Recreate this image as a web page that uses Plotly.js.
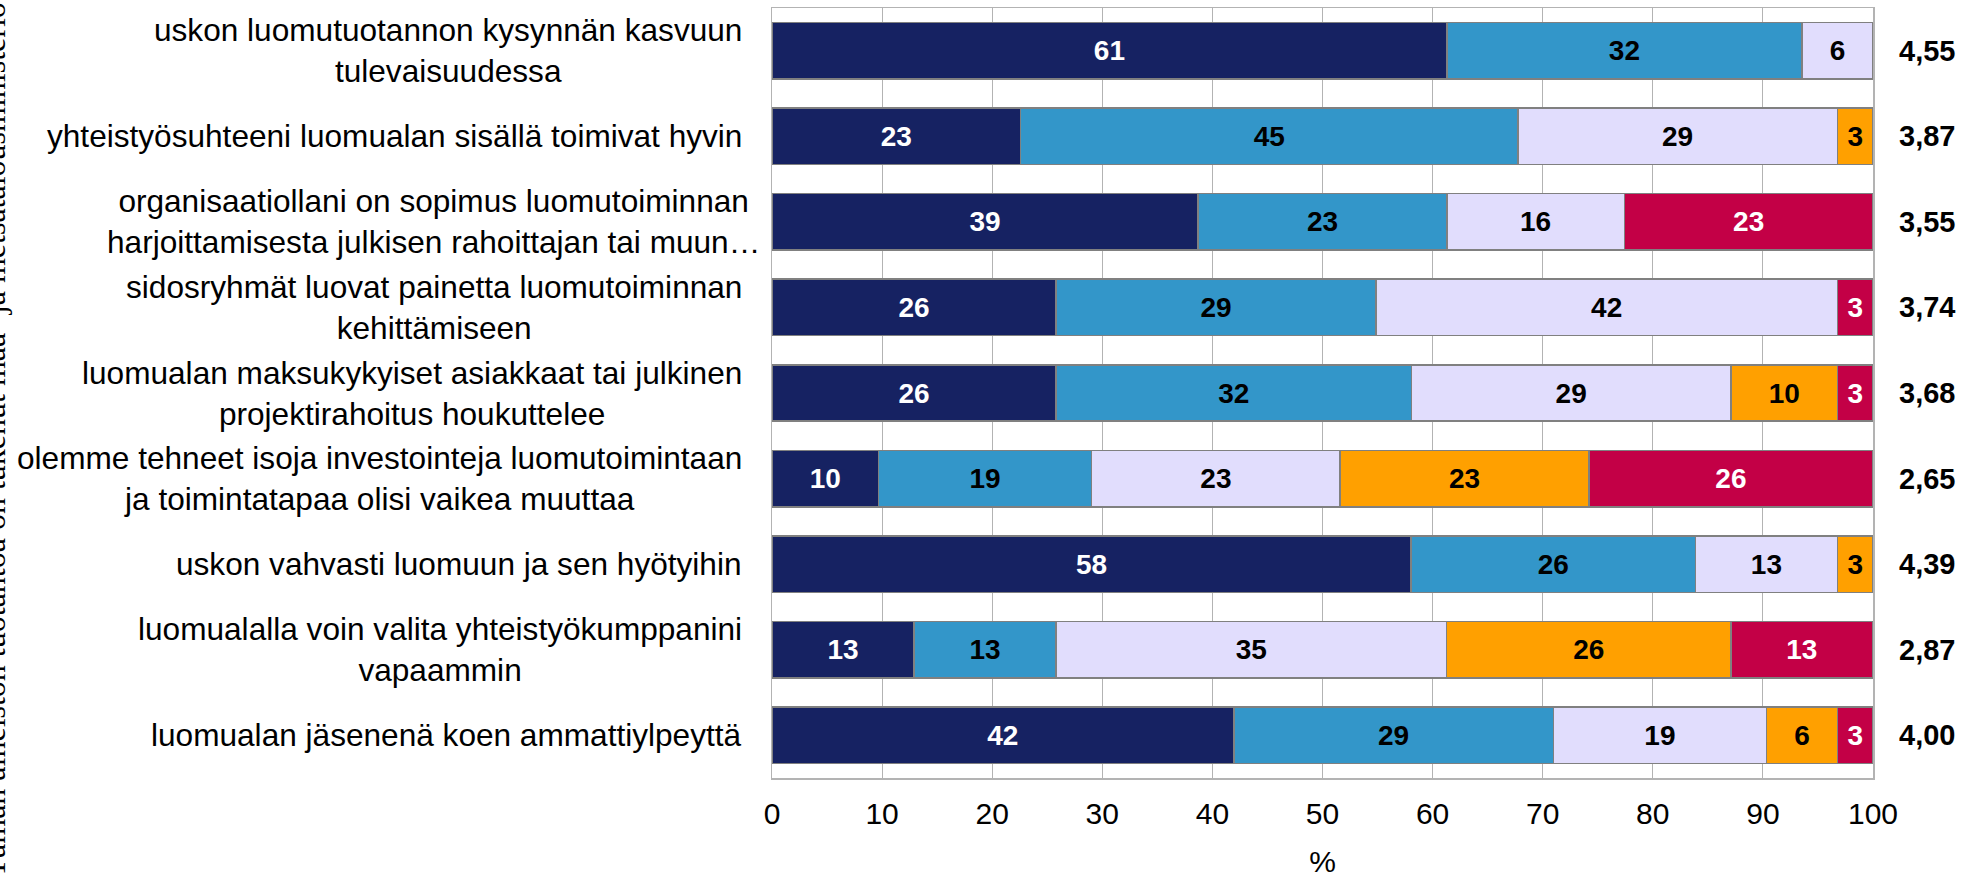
<!DOCTYPE html>
<html>
<head>
<meta charset="utf-8">
<script src="https://cdn.plot.ly/plotly-3.0.1.min.js"></script>
<style>
  html, body { margin: 0; padding: 0; background: #ffffff; }
  #chart { width: 1973px; height: 878px; }
</style>
</head>
<body>
<div id="chart"></div>
<script>
// Statements (top to bottom)
const categories = [
  "uskon luomutuotannon kysynnän kasvuun<br>tulevaisuudessa",
  "yhteistyösuhteeni luomualan sisällä toimivat hyvin",
  "organisaatiollani on sopimus luomutoiminnan<br>harjoittamisesta julkisen rahoittajan tai muun…",
  "sidosryhmät luovat painetta luomutoiminnan<br>kehittämiseen",
  "luomualan maksukykyiset asiakkaat tai julkinen<br>projektirahoitus houkuttelee",
  "olemme tehneet isoja investointeja luomutoimintaan<br>ja toimintatapaa olisi vaikea muuttaa",
  "uskon vahvasti luomuun ja sen hyötyihin",
  "luomualalla voin valita yhteistyökumppanini<br>vapaammin",
  "luomualan jäsenenä koen ammattiylpeyttä"
];

// Percent shares (5 = fully agree ... 1 = fully disagree)
const s5 = [61.29, 22.58, 38.71, 25.81, 25.81,  9.68, 58.06, 12.90, 41.94];
const s4 = [32.26, 45.16, 22.58, 29.03, 32.26, 19.35, 25.81, 12.90, 29.03];
const s3 = [ 6.45, 29.03, 16.13, 41.94, 29.03, 22.58, 12.90, 35.48, 19.35];
const s2 = [null,   3.23, null,  null,   9.68, 22.58,  3.23, 25.81,  6.45];
const s1 = [null,   null, 22.58,  3.23,  3.23, 25.81, null,  12.90,  3.23];

// Mean scores shown at the right
const means = ["4,55", "3,87", "3,55", "3,74", "3,68", "2,65", "4,39", "2,87", "4,00"];

const xTicks = [0, 10, 20, 30, 40, 50, 60, 70, 80, 90, 100];
const xTitle = "%";
const sideNote = "Tämän aineiston tuotantoa on tukenut maa- ja metsätalousministeriö";

const seriesList = [s5, s4, s3, s2, s1];
const colors = ["#162262", "#3396c9", "#e1ddfd", "#ffa000", "#c30046"];
const textColors = ["#ffffff", "#000000", "#000000", "#000000", "#ffffff"];

const ids = categories.map((c, i) => "c" + i);

const traces = seriesList.map((vals, k) => ({
  type: "bar",
  orientation: "h",
  y: ids,
  x: vals,
  marker: { color: colors[k], line: { color: "#808080", width: 1.5 } },
  texttemplate: "%{x:.0f}",
  textposition: "inside",
  insidetextanchor: "middle",
  constraintext: "none",
  textfont: { family: "Liberation Sans, Arial, sans-serif", size: 28, color: textColors[k], weight: "bold" },
  hoverinfo: "skip",
  showlegend: false
}));

const L = 772, R = 1873, T = 8, B = 778;
const pw = R - L, ph = B - T;

const annotations = [];
categories.forEach((c, i) => {
  const rightPx = (i === 2) ? 762 : 744;
  annotations.push({
    xref: "paper", yref: "y", x: (rightPx - L) / pw, y: ids[i],
    xanchor: "right", yanchor: "middle", align: "center",
    text: c, showarrow: false,
    font: { family: "Liberation Sans, Arial, sans-serif", size: 31.6, color: "#000000" }
  });
  annotations.push({
    xref: "paper", yref: "y", x: (1927 - L) / pw, y: ids[i],
    xanchor: "center", yanchor: "middle",
    text: means[i], showarrow: false,
    font: { family: "Liberation Sans, Arial, sans-serif", size: 29, color: "#000000", weight: "bold" }
  });
});
annotations.push({
  xref: "paper", yref: "paper",
  x: (-7 - L) / pw, y: (B - 880) / ph,
  xanchor: "center", yanchor: "bottom",
  textangle: -90, text: sideNote, showarrow: false,
  font: { family: "Liberation Serif, Times New Roman, serif", size: 32, color: "#000000" }
});

const layout = {
  width: 1973, height: 878,
  margin: { l: L, r: 1973 - R, t: T, b: 878 - B, pad: 0 },
  paper_bgcolor: "#ffffff", plot_bgcolor: "#ffffff",
  barmode: "stack",
  bargap: 0.34,
  xaxis: {
    range: [0, 100],
    tickvals: xTicks,
    ticktext: xTicks.map(String),
    showgrid: true, gridcolor: "#b3b3b3", gridwidth: 1,
    zeroline: false,
    showline: true, linecolor: "#b3b3b3", linewidth: 1.5, mirror: true,
    ticks: "", ticklabelstandoff: 8,
    tickfont: { family: "Liberation Sans, Arial, sans-serif", size: 30, color: "#000000" },
    title: { text: xTitle, standoff: 28, font: { family: "Liberation Sans, Arial, sans-serif", size: 30, color: "#000000" } },
    fixedrange: true
  },
  yaxis: {
    type: "category",
    categoryorder: "array", categoryarray: ids,
    autorange: "reversed",
    showticklabels: false, ticks: "",
    showgrid: false, zeroline: false,
    showline: true, linecolor: "#b3b3b3", linewidth: 1.5, mirror: true,
    fixedrange: true
  },
  annotations: annotations,
  showlegend: false
};

Plotly.newPlot("chart", traces, layout, { displayModeBar: false, staticPlot: true });
</script>
</body>
</html>
